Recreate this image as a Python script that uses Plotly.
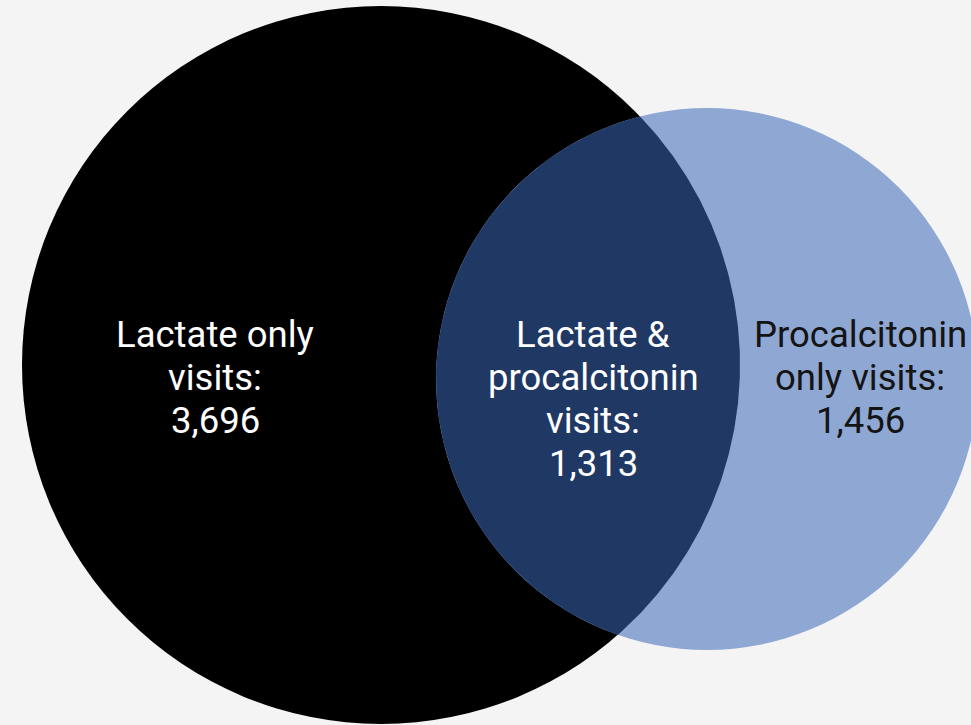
import numpy as np
import plotly.graph_objects as go

# Data
region_labels = [["Lactate only", "visits:"],
                 ["Lactate &", "procalcitonin", "visits:"],
                 ["Procalcitonin", "only visits:"]]
region_counts = [3696, 1313, 1456]

# Layout geometry (pixel-like coordinates)
W, H = 971, 725
circA = dict(cx=381, cy=365, r=359)   # Lactate
circB = dict(cx=707, cy=379, r=271)   # Procalcitonin
label_x = [215, 593, 860]
label_top = 334.5
line_gap = 43
label_colors = ["#ffffff", "#ffffff", "#141414"]
font_size = 36.5

colA = "#000000"
colB = "#8fa7d3"
colAB = "#203864"
bg = "#f4f4f4"

def lens(a, b, n=200):
    dx, dy = b["cx"] - a["cx"], b["cy"] - a["cy"]
    d = np.hypot(dx, dy)
    base = np.arctan2(dy, dx)
    ta = np.arccos((a["r"]**2 + d**2 - b["r"]**2) / (2 * a["r"] * d))
    tb = np.arccos((b["r"]**2 + d**2 - a["r"]**2) / (2 * b["r"] * d))
    angA = np.linspace(base - ta, base + ta, n)
    xs = list(a["cx"] + a["r"] * np.cos(angA))
    ys = list(a["cy"] + a["r"] * np.sin(angA))
    baseB = base + np.pi
    angB = np.linspace(baseB - tb, baseB + tb, n)
    xs += list(b["cx"] + b["r"] * np.cos(angB))
    ys += list(b["cy"] + b["r"] * np.sin(angB))
    return xs, ys

fig = go.Figure()

lx, ly = lens(circA, circB)
fig.add_trace(go.Scatter(x=lx, y=ly, fill="toself", fillcolor=colAB, mode="lines",
                         line=dict(width=0, color=colAB), hoverinfo="skip", showlegend=False))

for c, col in [(circA, colA), (circB, colB)]:
    fig.add_shape(type="circle", xref="x", yref="y",
                  x0=c["cx"] - c["r"], x1=c["cx"] + c["r"],
                  y0=c["cy"] - c["r"], y1=c["cy"] + c["r"],
                  fillcolor=col, line=dict(width=0), layer="below")

for lines, cnt, x, tc in zip(region_labels, region_counts, label_x, label_colors):
    all_lines = lines + [f"{cnt:,}"]
    for i, t in enumerate(all_lines):
        fig.add_annotation(x=x, y=label_top + i * line_gap, xref="x", yref="y", text=t,
                           showarrow=False, align="center", xanchor="center", yanchor="middle",
                           font=dict(family="Roboto", size=font_size, color=tc))

fig.update_xaxes(range=[0, W], visible=False, fixedrange=True)
fig.update_yaxes(range=[H, 0], visible=False, fixedrange=True)
fig.update_layout(width=W, height=H, margin=dict(l=0, r=0, t=0, b=0),
                  paper_bgcolor=bg, plot_bgcolor=bg, showlegend=False)

fig.write_html("out.html", config={"displayModeBar": False})
